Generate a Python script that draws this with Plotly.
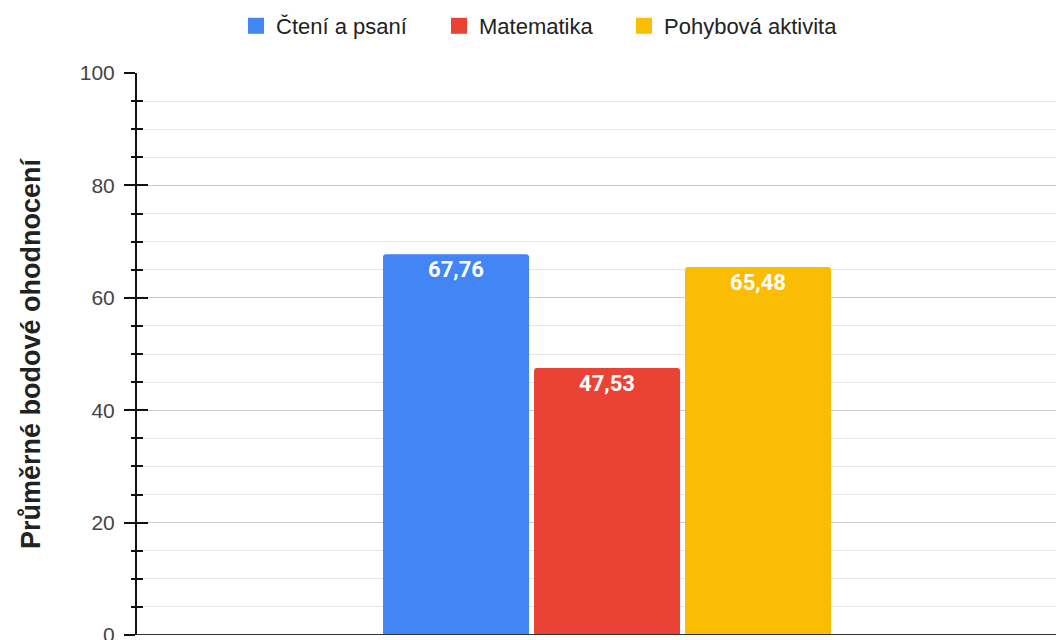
import plotly.graph_objects as go

categories = [""]
series_names = ["Čtení a psaní", "Matematika", "Pohybová aktivita"]
series_values = [[67.76], [47.53], [65.48]]
colors = ["#4285F4", "#EA4335", "#FBBC04"]
y_tick_values = [0, 20, 40, 60, 80, 100]

fig = go.Figure()
for name, vals, col in zip(series_names, series_values, colors):
    fig.add_trace(go.Bar(
        x=categories, y=vals, name=name, showlegend=False,
        marker=dict(color=col, line=dict(width=0)),
        text=[f"{v:.2f}".replace(".", ",") for v in vals],
        textposition="inside", insidetextanchor="end",
        textfont=dict(family="Roboto", size=22, color="white", weight="bold"),
        textangle=0,
    ))

# legend entries (larger square swatches), also anchoring the overlay axis
legend_ids = ["legend", "legend2", "legend3"]
for name, col, lid in zip(series_names, colors, legend_ids):
    fig.add_trace(go.Scatter(
        x=categories, y=[None], name=name, mode="markers", yaxis="y2",
        legend=lid,
        marker=dict(symbol="square", size=20, color=col, line=dict(width=0)),
        hoverinfo="skip",
    ))

# the browser page has an 8px body margin, so the figure starts at (8, 8)
H = 640
L = 129
PW = 1056 - L
legend_px = [228, 431, 616]  # left edge of each legend item, figure px


def legend_cfg(px):
    return dict(orientation="h", x=(px - L) / PW, xanchor="left", y=1 - 18 / H,
                yref="container", yanchor="middle",
                font=dict(size=22, color="#222222"), itemsizing="trace",
                bgcolor="rgba(0,0,0,0)", borderwidth=0)


fig.update_layout(
    width=1056, height=H,
    margin=dict(l=L, r=0, t=65, b=13, autoexpand=False),
    paper_bgcolor="white", plot_bgcolor="white",
    barmode="group", bargap=0.5, bargroupgap=0.033,
    barcornerradius=3,
    font=dict(family="Liberation Sans, Arial", color="#333333"),
    legend=legend_cfg(legend_px[0]),
    legend2=legend_cfg(legend_px[1]),
    legend3=legend_cfg(legend_px[2]),
    xaxis=dict(range=[-0.5188, 0.5044], showticklabels=False, ticks="",
               showgrid=False, showline=False, zeroline=False, fixedrange=True),
    yaxis=dict(range=[0, 100], tickvals=y_tick_values, ticks="outside", ticklen=11,
               tickwidth=2, tickcolor="#111111", ticklabelstandoff=5,
               tickfont=dict(size=21, color="#444444"),
               showline=True, linecolor="#111111", linewidth=2,
               showgrid=True, gridcolor="#cccccc", gridwidth=1,
               zeroline=False,
               minor=dict(dtick=5, showgrid=True, gridcolor="#e6e6e6", gridwidth=1,
                          ticks="outside", ticklen=4, tickwidth=2, tickcolor="#111111"),
               title=dict(text="<b>Průměrné bodové ohodnocení</b>", standoff=31,
                          font=dict(size=27, color="#222222", family="Liberation Sans, Arial"))),
    yaxis2=dict(range=[0, 100], overlaying="y", side="left", tickvals=y_tick_values,
                ticks="inside", ticklen=11, tickwidth=2, tickcolor="#111111",
                showticklabels=False, showgrid=False, zeroline=False, showline=False,
                minor=dict(dtick=5, ticks="inside", ticklen=6, tickwidth=2,
                           tickcolor="#111111", showgrid=False)),
    shapes=[dict(type="line", xref="paper", yref="y", x0=0, x1=1, y0=0, y1=0,
                 line=dict(color="#333333", width=2))],
)

fig.write_html("out.html")
